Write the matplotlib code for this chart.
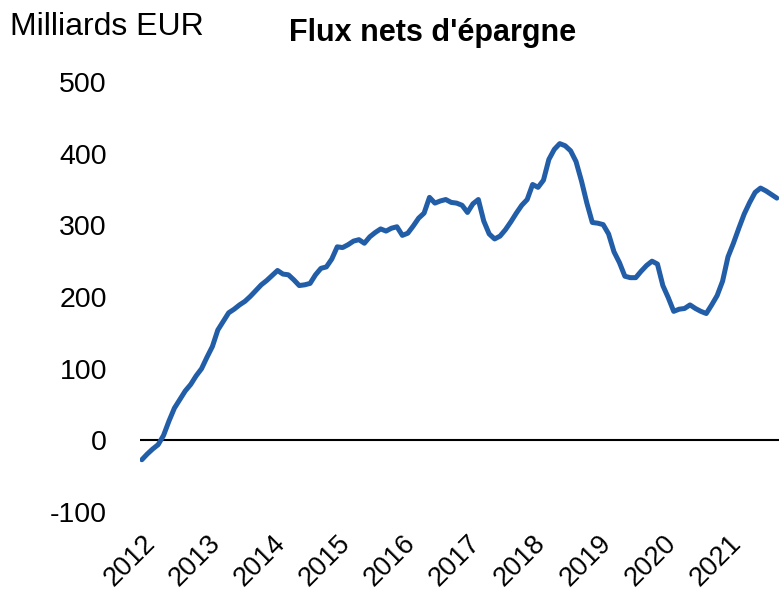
import matplotlib
matplotlib.use("Agg")
import matplotlib.pyplot as plt
import numpy as np

years = ["2012", "2013", "2014", "2015", "2016", "2017", "2018", "2019", "2020", "2021"]
flux = [-27, -19, -12, -6, 7, 27, 45, 57, 69, 78, 90, 100,
        116, 131, 154, 166, 178, 183, 189, 194, 201, 209, 217, 223,
        230, 237, 232, 231, 224, 216, 217, 219, 231, 240, 242, 253,
        270, 269, 273, 278, 280, 275, 284, 290, 295, 292, 296, 298,
        286, 289, 299, 310, 317, 339, 331, 334, 336, 332, 331, 328,
        318, 330, 336, 306, 288, 281, 285, 294, 305, 317, 328, 336,
        357, 353, 363, 392, 406, 414, 411, 404, 389, 362, 331, 304,
        303, 301, 288, 263, 248, 229, 227, 227, 236, 244, 250, 246,
        216, 199, 180, 183, 184, 189, 184, 180, 177, 189, 202, 222,
        256, 275, 296, 316, 332, 346, 352, 348, 343, 338]

plt.rcParams['font.family'] = ['Liberation Sans', 'DejaVu Sans']
plt.rcParams['axes.unicode_minus'] = False

fig = plt.figure(figsize=(7.79, 6.01), dpi=100)
ax = fig.add_axes([0.18, 0.148, 0.82, 0.7156])

x = np.arange(len(flux))
ax.plot(x, flux, color='#225DA8', lw=3.6, solid_joinstyle='round', solid_capstyle='round')
ax.axhline(0, color='black', lw=1.5, zorder=1)

ax.set_ylim(-100, 500)
ax.set_xlim(-0.3, len(flux) - 0.6)
ax.set_yticks(np.arange(-100, 501, 100))
ax.set_xticks(np.arange(0, 12 * len(years), 12))
ax.set_xticklabels(years, rotation=45, ha='right', va='top', rotation_mode='anchor')
ax.tick_params(axis='both', length=0, labelsize=20.5)
ax.tick_params(axis='x', labelsize=19.5, pad=13)
ax.tick_params(axis='y', pad=24)
for s in ax.spines.values():
    s.set_visible(False)

fig.text(0.013, 0.955, "Milliards EUR", fontsize=23, ha='left', va='center')
fig.text(0.555, 0.945, "Flux nets d'épargne", fontsize=22, fontweight='bold', ha='center', va='center')

fig.savefig("out.png", dpi=100)
